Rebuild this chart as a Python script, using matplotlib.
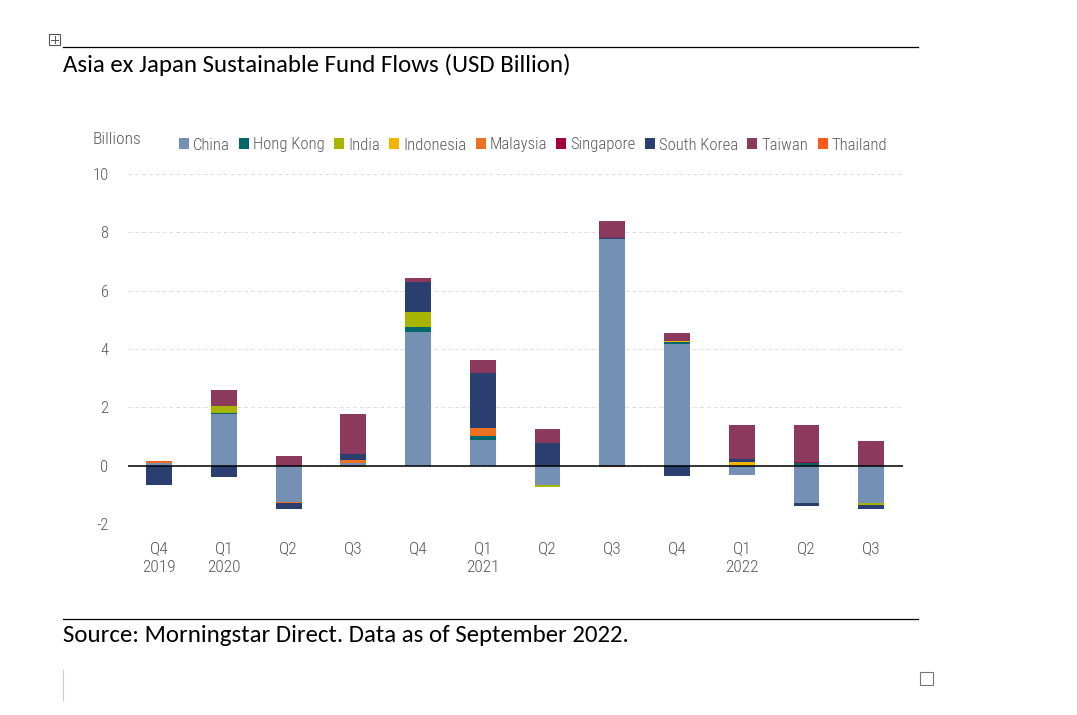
import matplotlib
matplotlib.use("Agg")
import matplotlib.pyplot as plt
from matplotlib.patches import Rectangle
from matplotlib.lines import Line2D
from matplotlib import font_manager
import numpy as np

quarters = ["Q4\n2019", "Q1\n2020", "Q2", "Q3", "Q4", "Q1\n2021", "Q2", "Q3", "Q4", "Q1\n2022", "Q2", "Q3"]

# flows per market, USD billion
china = [0.08, 1.77, -1.26, 0.09, 4.57, 0.87, -0.66, 7.76, 4.17, -0.31, -1.28, -1.27]
hong_kong = [0, 0.03, 0, 0, 0.17, 0.14, 0, 0.02, 0.08, 0, 0.09, 0]
india = [0, 0.25, 0, 0, 0.53, 0, -0.06, 0, 0, 0.04, 0, -0.08]
indonesia = [0, 0, 0, -0.04, 0, 0.02, 0, 0, 0.02, 0.07, 0, 0]
malaysia = [0.05, 0, -0.02, 0.09, 0, 0.27, 0, 0, 0, 0, 0, 0]
singapore = [0, 0, 0, 0, 0, 0, 0, 0, 0, 0, 0.04, 0]
south_korea = [-0.65, -0.39, -0.22, 0.23, 1.02, 1.88, 0.77, 0.04, -0.37, 0.13, -0.10, -0.14]
taiwan = [0, 0.53, 0.33, 1.35, 0.14, 0.45, 0.50, 0.56, 0.28, 1.17, 1.28, 0.85]
thailand = [0.04, 0, 0, 0, 0, 0, 0, -0.05, 0, 0, 0, 0]

names = ["China", "Hong Kong", "India", "Indonesia", "Malaysia", "Singapore", "South Korea", "Taiwan", "Thailand"]
series = [china, hong_kong, india, indonesia, malaysia, singapore, south_korea, taiwan, thailand]
colors = ["#7490B4", "#00676A", "#A7B400", "#F3B300", "#EC7022", "#A4003B", "#2A3F70", "#8B3A5E", "#FF5A1E"]

installed = {f.name for f in font_manager.fontManager.ttflist}
small_font = [f for f in ["Roboto Condensed", "Liberation Sans Narrow", "Roboto"] if f in installed] + ["DejaVu Sans"]
doc_font = [f for f in ["Carlito", "Lato"] if f in installed] + ["DejaVu Sans"]
plt.rcParams["axes.unicode_minus"] = False
grey = "#595959"

fig = plt.figure(figsize=(10.77, 7.15), dpi=100)
ax = fig.add_axes([128 / 1077, 1 - 524 / 715, (903 - 128) / 1077, (524 - 174) / 715])

x = np.arange(len(quarters))
pos = np.zeros(len(quarters))
neg = np.zeros(len(quarters))
for name, vals, c in zip(names, series, colors):
    v = np.array(vals, dtype=float)
    bottom = np.where(v >= 0, pos, neg)
    ax.bar(x, v, 0.4, bottom=bottom, color=c, label=name, linewidth=0, zorder=3)
    pos = pos + np.where(v > 0, v, 0)
    neg = neg + np.where(v < 0, v, 0)

ax.set_xlim(-0.48, len(quarters) - 0.51)
ax.set_ylim(-2, 10)
ax.set_yticks(range(-2, 11, 2))
ax.yaxis.grid(True, color="#DDDDDD", linestyle=(0, (4, 3)), linewidth=0.7, zorder=0)
ax.axhline(0, color="black", linewidth=1.1, zorder=4)
for s in ax.spines.values():
    s.set_visible(False)
ax.tick_params(length=0, labelcolor=grey)
ax.tick_params(axis="y", pad=14, labelsize=12)
ax.tick_params(axis="x", pad=12, labelsize=12.5)
ax.set_xticks(x)
ax.set_xticklabels(quarters, family=small_font, linespacing=1.35, fontweight="light")
for t in ax.get_yticklabels():
    t.set_family(small_font)
    t.set_fontweight("light")

fig.text(92 / 1077, 1 - 139 / 715, "Billions", family=small_font, color=grey, fontsize=12.5,
         fontweight="light", va="center")

leg = ax.legend(loc="center left", bbox_to_anchor=(172 / 1077, 1 - 145 / 715), bbox_transform=fig.transFigure,
                ncol=9, frameon=False, handlelength=0.6, handleheight=0.6, handletextpad=0.25,
                columnspacing=0.55, borderaxespad=0,
                prop={"family": small_font, "size": 12, "weight": "light"})
for t in leg.get_texts():
    t.set_color(grey)

# document framing around the chart
fig.add_artist(Line2D([63 / 1077, 918 / 1077], [1 - 47 / 715] * 2, color="black", linewidth=0.9))
fig.add_artist(Line2D([63 / 1077, 918 / 1077], [1 - 619 / 715] * 2, color="black", linewidth=0.9))
fig.text(63 / 1077, 1 - 65 / 715, "Asia ex Japan Sustainable Fund Flows (USD Billion)", family=doc_font,
         fontsize=17.9, va="center", color="black")
fig.text(63 / 1077, 1 - 636 / 715, "Source: Morningstar Direct. Data as of September 2022.", family=doc_font,
         fontsize=17.9, va="center", color="black")
fig.add_artist(Rectangle((49 / 1077, 1 - 45 / 715), 11 / 1077, 11 / 715, fill=False, edgecolor="#555555", linewidth=0.8))
fig.add_artist(Line2D([54.5 / 1077] * 2, [1 - 43 / 715, 1 - 36 / 715], color="#555555", linewidth=0.7))
fig.add_artist(Line2D([51 / 1077, 58 / 1077], [1 - 39.5 / 715] * 2, color="#555555", linewidth=0.7))
fig.add_artist(Rectangle((920 / 1077, 1 - 685 / 715), 13 / 1077, 13 / 715, fill=False, edgecolor="#777777", linewidth=0.8))
fig.add_artist(Line2D([63 / 1077] * 2, [1 - 700 / 715, 1 - 670 / 715], color="#CCCCCC", linewidth=0.8))

fig.savefig("out.png", dpi=100)
